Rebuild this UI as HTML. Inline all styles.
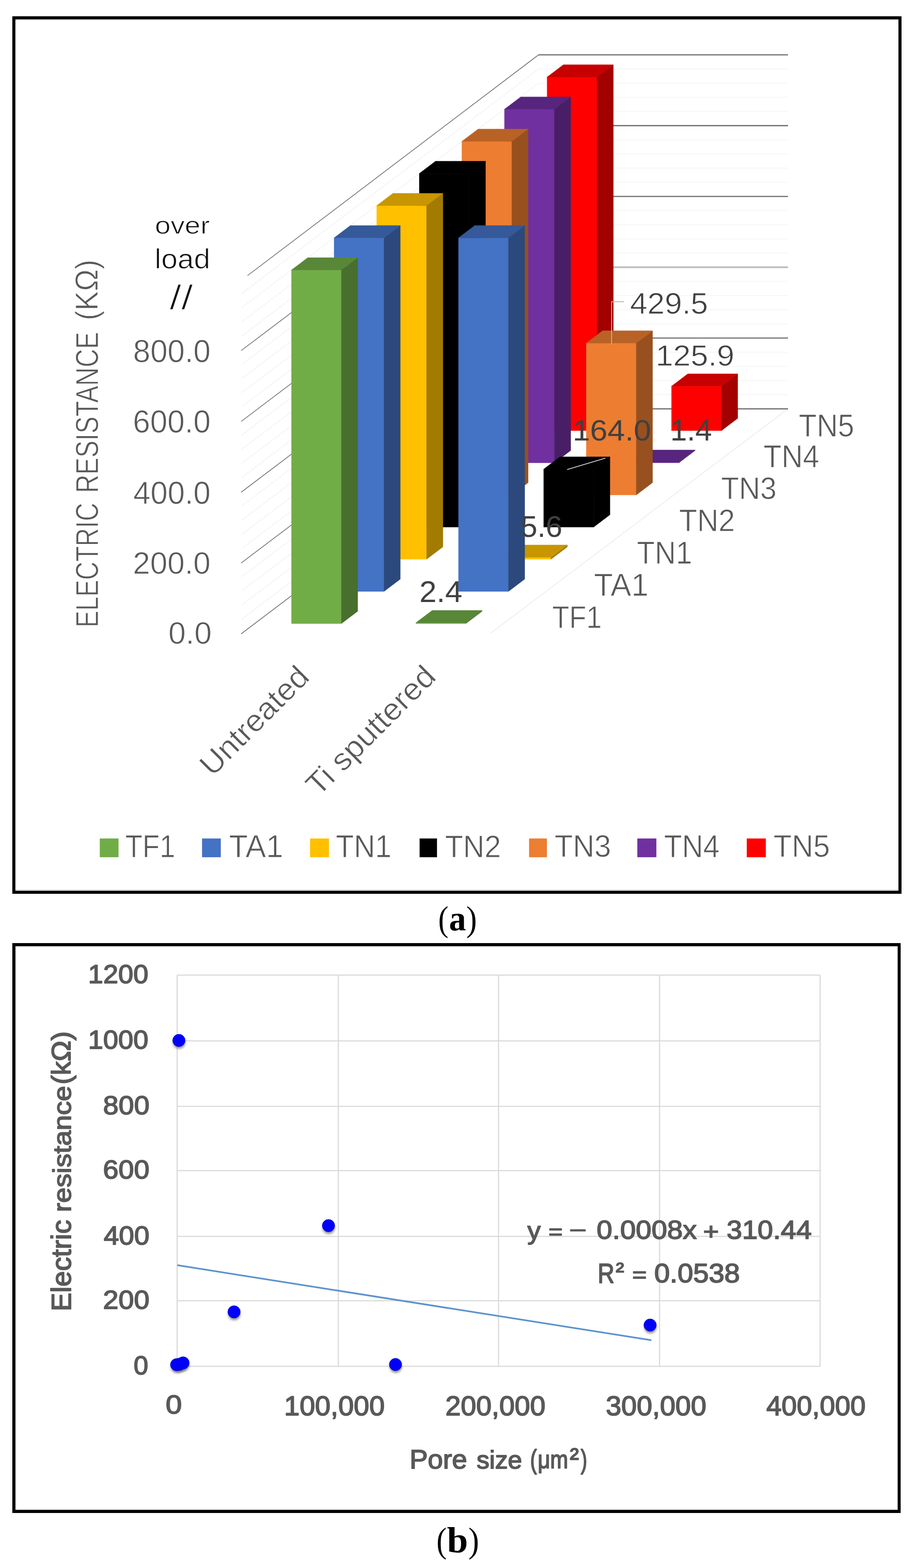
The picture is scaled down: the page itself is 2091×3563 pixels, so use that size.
<!DOCTYPE html>
<html><head><meta charset="utf-8"><title>Electric resistance charts</title>
<style>html,body{margin:0;padding:0;background:#fff;} svg{display:block;}</style></head>
<body><svg width="2091" height="3563" viewBox="0 0 2091 3563">
<rect width="2091" height="3563" fill="#fff"/>
<rect x="31.5" y="40.5" width="2014" height="1987" fill="none" stroke="#000" stroke-width="7"/>
<line x1="35" y1="45.5" x2="2042" y2="45.5" stroke="#d9d9d9" stroke-width="2"/>
<line x1="35" y1="2022" x2="2042" y2="2022" stroke="#d9d9d9" stroke-width="2"/>
<line x1="1224.00" y1="896.82" x2="1791.00" y2="896.82" stroke="#f3f3f3" stroke-width="1.5" />
<line x1="549.00" y1="1407.39" x2="1224.00" y2="896.82" stroke="#f0f0f0" stroke-width="1.4" />
<line x1="1224.00" y1="864.65" x2="1791.00" y2="864.65" stroke="#f3f3f3" stroke-width="1.5" />
<line x1="549.00" y1="1375.22" x2="1224.00" y2="864.65" stroke="#f0f0f0" stroke-width="1.4" />
<line x1="1224.00" y1="832.47" x2="1791.00" y2="832.47" stroke="#f3f3f3" stroke-width="1.5" />
<line x1="549.00" y1="1343.04" x2="1224.00" y2="832.47" stroke="#f0f0f0" stroke-width="1.4" />
<line x1="1224.00" y1="800.30" x2="1791.00" y2="800.30" stroke="#f3f3f3" stroke-width="1.5" />
<line x1="549.00" y1="1310.87" x2="1224.00" y2="800.30" stroke="#f0f0f0" stroke-width="1.4" />
<line x1="1224.00" y1="735.94" x2="1791.00" y2="735.94" stroke="#f3f3f3" stroke-width="1.5" />
<line x1="549.00" y1="1246.51" x2="1224.00" y2="735.94" stroke="#f0f0f0" stroke-width="1.4" />
<line x1="1224.00" y1="703.77" x2="1791.00" y2="703.77" stroke="#f3f3f3" stroke-width="1.5" />
<line x1="549.00" y1="1214.34" x2="1224.00" y2="703.77" stroke="#f0f0f0" stroke-width="1.4" />
<line x1="1224.00" y1="671.59" x2="1791.00" y2="671.59" stroke="#f3f3f3" stroke-width="1.5" />
<line x1="549.00" y1="1182.16" x2="1224.00" y2="671.59" stroke="#f0f0f0" stroke-width="1.4" />
<line x1="1224.00" y1="639.42" x2="1791.00" y2="639.42" stroke="#f3f3f3" stroke-width="1.5" />
<line x1="549.00" y1="1149.99" x2="1224.00" y2="639.42" stroke="#f0f0f0" stroke-width="1.4" />
<line x1="1224.00" y1="575.06" x2="1791.00" y2="575.06" stroke="#f3f3f3" stroke-width="1.5" />
<line x1="549.00" y1="1085.63" x2="1224.00" y2="575.06" stroke="#f0f0f0" stroke-width="1.4" />
<line x1="1224.00" y1="542.89" x2="1791.00" y2="542.89" stroke="#f3f3f3" stroke-width="1.5" />
<line x1="549.00" y1="1053.46" x2="1224.00" y2="542.89" stroke="#f0f0f0" stroke-width="1.4" />
<line x1="1224.00" y1="510.71" x2="1791.00" y2="510.71" stroke="#f3f3f3" stroke-width="1.5" />
<line x1="549.00" y1="1021.28" x2="1224.00" y2="510.71" stroke="#f0f0f0" stroke-width="1.4" />
<line x1="1224.00" y1="478.54" x2="1791.00" y2="478.54" stroke="#f3f3f3" stroke-width="1.5" />
<line x1="549.00" y1="989.11" x2="1224.00" y2="478.54" stroke="#f0f0f0" stroke-width="1.4" />
<line x1="1224.00" y1="414.18" x2="1791.00" y2="414.18" stroke="#f3f3f3" stroke-width="1.5" />
<line x1="549.00" y1="924.75" x2="1224.00" y2="414.18" stroke="#f0f0f0" stroke-width="1.4" />
<line x1="1224.00" y1="382.01" x2="1791.00" y2="382.01" stroke="#f3f3f3" stroke-width="1.5" />
<line x1="549.00" y1="892.58" x2="1224.00" y2="382.01" stroke="#f0f0f0" stroke-width="1.4" />
<line x1="1224.00" y1="349.83" x2="1791.00" y2="349.83" stroke="#f3f3f3" stroke-width="1.5" />
<line x1="549.00" y1="860.40" x2="1224.00" y2="349.83" stroke="#f0f0f0" stroke-width="1.4" />
<line x1="1224.00" y1="317.66" x2="1791.00" y2="317.66" stroke="#f3f3f3" stroke-width="1.5" />
<line x1="549.00" y1="828.23" x2="1224.00" y2="317.66" stroke="#f0f0f0" stroke-width="1.4" />
<line x1="1224.00" y1="253.30" x2="1791.00" y2="253.30" stroke="#f3f3f3" stroke-width="1.5" />
<line x1="549.00" y1="763.87" x2="1224.00" y2="253.30" stroke="#f0f0f0" stroke-width="1.4" />
<line x1="1224.00" y1="221.13" x2="1791.00" y2="221.13" stroke="#f3f3f3" stroke-width="1.5" />
<line x1="549.00" y1="731.70" x2="1224.00" y2="221.13" stroke="#f0f0f0" stroke-width="1.4" />
<line x1="1224.00" y1="188.95" x2="1791.00" y2="188.95" stroke="#f3f3f3" stroke-width="1.5" />
<line x1="549.00" y1="699.52" x2="1224.00" y2="188.95" stroke="#f0f0f0" stroke-width="1.4" />
<line x1="1224.00" y1="156.78" x2="1791.00" y2="156.78" stroke="#f3f3f3" stroke-width="1.5" />
<line x1="549.00" y1="667.35" x2="1224.00" y2="156.78" stroke="#f0f0f0" stroke-width="1.4" />
<line x1="1115.00" y1="1439.00" x2="1791.00" y2="929.00" stroke="#ebebeb" stroke-width="1.6" />
<line x1="548.00" y1="1440.33" x2="1224.00" y2="929.00" stroke="#595959" stroke-width="1.4" />
<line x1="1224.00" y1="929.00" x2="1791.00" y2="929.00" stroke="#767676" stroke-width="2.8" />
<line x1="548.00" y1="1279.45" x2="1224.00" y2="768.12" stroke="#595959" stroke-width="1.4" />
<line x1="1224.00" y1="768.12" x2="1791.00" y2="768.12" stroke="#767676" stroke-width="2.8" />
<line x1="548.00" y1="1118.57" x2="1224.00" y2="607.24" stroke="#595959" stroke-width="1.4" />
<line x1="1224.00" y1="607.24" x2="1791.00" y2="607.24" stroke="#bdbdbd" stroke-width="4.0" />
<line x1="548.00" y1="957.69" x2="1224.00" y2="446.36" stroke="#595959" stroke-width="1.4" />
<line x1="1224.00" y1="446.36" x2="1791.00" y2="446.36" stroke="#767676" stroke-width="2.8" />
<line x1="548.00" y1="796.81" x2="1224.00" y2="285.48" stroke="#595959" stroke-width="1.4" />
<line x1="1224.00" y1="285.48" x2="1791.00" y2="285.48" stroke="#767676" stroke-width="2.8" />
<line x1="562.60" y1="626.30" x2="1224.00" y2="124.60" stroke="#595959" stroke-width="1.4" />
<line x1="1224.00" y1="124.60" x2="1791.00" y2="124.60" stroke="#767676" stroke-width="2.8" />
<polygon points="1243.48,175.08 1356.98,175.08 1356.98,978.58 1243.48,978.58" fill="#FF0000" stroke="#FF0000" stroke-width="0.6" stroke-linejoin="round" />
<polygon points="1356.98,175.08 1393.98,147.08 1393.98,950.58 1356.98,978.58" fill="#a30000" stroke="#a30000" stroke-width="0.6" stroke-linejoin="round" />
<polygon points="1243.48,175.08 1356.98,175.08 1393.98,147.08 1280.48,147.08" fill="#c70000" stroke="#c70000" stroke-width="0.6" stroke-linejoin="round" />
<polygon points="1526.28,877.42 1639.78,877.42 1639.78,978.58 1526.28,978.58" fill="#FF0000" stroke="#FF0000" stroke-width="0.6" stroke-linejoin="round" />
<polygon points="1639.78,877.42 1676.78,849.42 1676.78,950.58 1639.78,978.58" fill="#a30000" stroke="#a30000" stroke-width="0.6" stroke-linejoin="round" />
<polygon points="1526.28,877.42 1639.78,877.42 1676.78,849.42 1563.28,849.42" fill="#c70000" stroke="#c70000" stroke-width="0.6" stroke-linejoin="round" />
<polygon points="1146.65,248.15 1260.15,248.15 1260.15,1051.65 1146.65,1051.65" fill="#7030A0" stroke="#7030A0" stroke-width="0.6" stroke-linejoin="round" />
<polygon points="1260.15,248.15 1297.15,220.15 1297.15,1023.65 1260.15,1051.65" fill="#481f66" stroke="#481f66" stroke-width="0.6" stroke-linejoin="round" />
<polygon points="1146.65,248.15 1260.15,248.15 1297.15,220.15 1183.65,220.15" fill="#57257d" stroke="#57257d" stroke-width="0.6" stroke-linejoin="round" />
<polygon points="1429.45,1050.53 1542.95,1050.53 1542.95,1051.65 1429.45,1051.65" fill="#7030A0" stroke="#7030A0" stroke-width="0.6" stroke-linejoin="round" />
<polygon points="1542.95,1050.53 1579.95,1022.53 1579.95,1023.65 1542.95,1051.65" fill="#481f66" stroke="#481f66" stroke-width="0.6" stroke-linejoin="round" />
<polygon points="1429.45,1050.53 1542.95,1050.53 1579.95,1022.53 1466.45,1022.53" fill="#57257d" stroke="#57257d" stroke-width="0.6" stroke-linejoin="round" />
<polygon points="1049.82,321.22 1163.32,321.22 1163.32,1124.72 1049.82,1124.72" fill="#ED7D31" stroke="#ED7D31" stroke-width="0.6" stroke-linejoin="round" />
<polygon points="1163.32,321.22 1200.32,293.22 1200.32,1096.72 1163.32,1124.72" fill="#98501f" stroke="#98501f" stroke-width="0.6" stroke-linejoin="round" />
<polygon points="1049.82,321.22 1163.32,321.22 1200.32,293.22 1086.82,293.22" fill="#b96226" stroke="#b96226" stroke-width="0.6" stroke-linejoin="round" />
<polygon points="1332.62,779.62 1446.12,779.62 1446.12,1124.72 1332.62,1124.72" fill="#ED7D31" stroke="#ED7D31" stroke-width="0.6" stroke-linejoin="round" />
<polygon points="1446.12,779.62 1483.12,751.62 1483.12,1096.72 1446.12,1124.72" fill="#98501f" stroke="#98501f" stroke-width="0.6" stroke-linejoin="round" />
<polygon points="1332.62,779.62 1446.12,779.62 1483.12,751.62 1369.62,751.62" fill="#b96226" stroke="#b96226" stroke-width="0.6" stroke-linejoin="round" />
<polygon points="952.99,394.29 1066.49,394.29 1066.49,1197.79 952.99,1197.79" fill="#000000" stroke="#000000" stroke-width="0.6" stroke-linejoin="round" />
<polygon points="1066.49,394.29 1103.49,366.29 1103.49,1169.79 1066.49,1197.79" fill="#000000" stroke="#000000" stroke-width="0.6" stroke-linejoin="round" />
<polygon points="952.99,394.29 1066.49,394.29 1103.49,366.29 989.99,366.29" fill="#000000" stroke="#000000" stroke-width="0.6" stroke-linejoin="round" />
<polygon points="1235.79,1066.02 1349.29,1066.02 1349.29,1197.79 1235.79,1197.79" fill="#000000" stroke="#000000" stroke-width="0.6" stroke-linejoin="round" />
<polygon points="1349.29,1066.02 1386.29,1038.02 1386.29,1169.79 1349.29,1197.79" fill="#000000" stroke="#000000" stroke-width="0.6" stroke-linejoin="round" />
<polygon points="1235.79,1066.02 1349.29,1066.02 1386.29,1038.02 1272.79,1038.02" fill="#000000" stroke="#000000" stroke-width="0.6" stroke-linejoin="round" />
<polygon points="856.16,467.36 969.66,467.36 969.66,1270.86 856.16,1270.86" fill="#FFC000" stroke="#FFC000" stroke-width="0.6" stroke-linejoin="round" />
<polygon points="969.66,467.36 1006.66,439.36 1006.66,1242.86 969.66,1270.86" fill="#a37b00" stroke="#a37b00" stroke-width="0.6" stroke-linejoin="round" />
<polygon points="856.16,467.36 969.66,467.36 1006.66,439.36 893.16,439.36" fill="#c79600" stroke="#c79600" stroke-width="0.6" stroke-linejoin="round" />
<polygon points="1138.96,1266.36 1252.46,1266.36 1252.46,1270.86 1138.96,1270.86" fill="#FFC000" stroke="#FFC000" stroke-width="0.6" stroke-linejoin="round" />
<polygon points="1252.46,1266.36 1289.46,1238.36 1289.46,1242.86 1252.46,1270.86" fill="#a37b00" stroke="#a37b00" stroke-width="0.6" stroke-linejoin="round" />
<polygon points="1138.96,1266.36 1252.46,1266.36 1289.46,1238.36 1175.96,1238.36" fill="#c79600" stroke="#c79600" stroke-width="0.6" stroke-linejoin="round" />
<polygon points="759.33,540.43 872.83,540.43 872.83,1343.93 759.33,1343.93" fill="#4472C4" stroke="#4472C4" stroke-width="0.6" stroke-linejoin="round" />
<polygon points="872.83,540.43 909.83,512.43 909.83,1315.93 872.83,1343.93" fill="#2c497d" stroke="#2c497d" stroke-width="0.6" stroke-linejoin="round" />
<polygon points="759.33,540.43 872.83,540.43 909.83,512.43 796.33,512.43" fill="#355999" stroke="#355999" stroke-width="0.6" stroke-linejoin="round" />
<polygon points="1042.13,540.43 1155.63,540.43 1155.63,1343.93 1042.13,1343.93" fill="#4472C4" stroke="#4472C4" stroke-width="0.6" stroke-linejoin="round" />
<polygon points="1155.63,540.43 1192.63,512.43 1192.63,1315.93 1155.63,1343.93" fill="#2c497d" stroke="#2c497d" stroke-width="0.6" stroke-linejoin="round" />
<polygon points="1042.13,540.43 1155.63,540.43 1192.63,512.43 1079.13,512.43" fill="#355999" stroke="#355999" stroke-width="0.6" stroke-linejoin="round" />
<polygon points="662.50,613.50 776.00,613.50 776.00,1417.00 662.50,1417.00" fill="#70AD47" stroke="#70AD47" stroke-width="0.6" stroke-linejoin="round" />
<polygon points="776.00,613.50 813.00,585.50 813.00,1389.00 776.00,1417.00" fill="#486f2d" stroke="#486f2d" stroke-width="0.6" stroke-linejoin="round" />
<polygon points="662.50,613.50 776.00,613.50 813.00,585.50 699.50,585.50" fill="#578737" stroke="#578737" stroke-width="0.6" stroke-linejoin="round" />
<polygon points="945.30,1415.07 1058.80,1415.07 1058.80,1417.00 945.30,1417.00" fill="#70AD47" stroke="#70AD47" stroke-width="0.6" stroke-linejoin="round" />
<polygon points="1058.80,1415.07 1095.80,1387.07 1095.80,1389.00 1058.80,1417.00" fill="#486f2d" stroke="#486f2d" stroke-width="0.6" stroke-linejoin="round" />
<polygon points="945.30,1415.07 1058.80,1415.07 1095.80,1387.07 982.30,1387.07" fill="#578737" stroke="#578737" stroke-width="0.6" stroke-linejoin="round" />
<polyline points="1390,783 1390,685.6 1418,685.6" fill="none" stroke="#b4b4b4" stroke-width="2"/>
<line x1="1289.00" y1="1067.00" x2="1376.00" y2="1041.00" stroke="#bfbfbf" stroke-width="2" />
<text transform="translate(302.61,823.38) scale(0.7034,0.7208)" font-family="'Liberation Sans', Arial, sans-serif" font-weight="normal" font-size="100.0" fill="#595959" stroke="#fff" stroke-width="1.404" stroke-linejoin="round">800.0</text>
<text transform="translate(302.07,983.18) scale(0.7056,0.7180)" font-family="'Liberation Sans', Arial, sans-serif" font-weight="normal" font-size="100.0" fill="#595959" stroke="#fff" stroke-width="1.405" stroke-linejoin="round">600.0</text>
<text transform="translate(302.92,1144.98) scale(0.7021,0.7180)" font-family="'Liberation Sans', Arial, sans-serif" font-weight="normal" font-size="100.0" fill="#595959" stroke="#fff" stroke-width="1.408" stroke-linejoin="round">400.0</text>
<text transform="translate(302.08,1304.09) scale(0.7048,0.7110)" font-family="'Liberation Sans', Arial, sans-serif" font-weight="normal" font-size="100.0" fill="#595959" stroke="#fff" stroke-width="1.413" stroke-linejoin="round">200.0</text>
<text transform="translate(382.67,1463.49) scale(0.7086,0.7124)" font-family="'Liberation Sans', Arial, sans-serif" font-weight="normal" font-size="100.0" fill="#595959" stroke="#fff" stroke-width="1.408" stroke-linejoin="round">0.0</text>
<text transform="translate(351.97,531.05) scale(0.6426,0.5516)" font-family="'Liberation Sans', Arial, sans-serif" font-weight="normal" font-size="100.0" fill="#111111" stroke="#fff" stroke-width="2.016" stroke-linejoin="round">over</text>
<text transform="translate(351.59,610.46) scale(0.6676,0.6354)" font-family="'Liberation Sans', Arial, sans-serif" font-weight="normal" font-size="100.0" fill="#111111" stroke="#fff" stroke-width="1.842" stroke-linejoin="round">load</text>
<text transform="translate(385.60,702.93) scale(0.9532,0.7701)" font-family="'Liberation Sans', Arial, sans-serif" font-weight="normal" font-size="100.0" fill="#111111" stroke="#fff" stroke-width="2.101" stroke-linejoin="round">//</text>
<text transform="translate(222.78,1425.82) rotate(-90) scale(0.5724,0.7152)" font-family="'Liberation Sans', Arial, sans-serif" font-weight="normal" font-size="100.0" fill="#595959" stroke="#fff" stroke-width="1.563" stroke-linejoin="round">ELECTRIC</text>
<text transform="translate(222.78,1120.28) rotate(-90) scale(0.5794,0.7152)" font-family="'Liberation Sans', Arial, sans-serif" font-weight="normal" font-size="100.0" fill="#595959" stroke="#fff" stroke-width="1.553" stroke-linejoin="round">RESISTANCE</text>
<text transform="translate(221.90,727.84) rotate(-90) scale(0.6631,0.7228)" font-family="'Liberation Sans', Arial, sans-serif" font-weight="normal" font-size="100.0" fill="#595959" stroke="#fff" stroke-width="1.444" stroke-linejoin="round">(KΩ)</text>
<text transform="translate(1254.97,1427.10) scale(0.6354,0.7055)" font-family="'Liberation Sans', Arial, sans-serif" font-weight="normal" font-size="100.0" fill="#595959" stroke="#fff" stroke-width="1.494" stroke-linejoin="round">TF1</text>
<text transform="translate(1350.12,1354.00) scale(0.7034,0.7215)" font-family="'Liberation Sans', Arial, sans-serif" font-weight="normal" font-size="100.0" fill="#595959" stroke="#fff" stroke-width="1.404" stroke-linejoin="round">TA1</text>
<text transform="translate(1447.61,1281.00) scale(0.6641,0.7229)" font-family="'Liberation Sans', Arial, sans-serif" font-weight="normal" font-size="100.0" fill="#595959" stroke="#fff" stroke-width="1.443" stroke-linejoin="round">TN1</text>
<text transform="translate(1543.49,1207.00) scale(0.6722,0.7025)" font-family="'Liberation Sans', Arial, sans-serif" font-weight="normal" font-size="100.0" fill="#595959" stroke="#fff" stroke-width="1.455" stroke-linejoin="round">TN2</text>
<text transform="translate(1638.70,1134.30) scale(0.6689,0.6996)" font-family="'Liberation Sans', Arial, sans-serif" font-weight="normal" font-size="100.0" fill="#595959" stroke="#fff" stroke-width="1.462" stroke-linejoin="round">TN3</text>
<text transform="translate(1735.29,1062.00) scale(0.6710,0.7229)" font-family="'Liberation Sans', Arial, sans-serif" font-weight="normal" font-size="100.0" fill="#595959" stroke="#fff" stroke-width="1.436" stroke-linejoin="round">TN4</text>
<text transform="translate(1815.40,991.88) scale(0.6674,0.7154)" font-family="'Liberation Sans', Arial, sans-serif" font-weight="normal" font-size="100.0" fill="#595959" stroke="#fff" stroke-width="1.447" stroke-linejoin="round">TN5</text>
<text transform="translate(482.67,1766.39) rotate(-45) scale(1.0319,1.0000)" font-family="'Liberation Sans', Arial, sans-serif" font-weight="normal" font-size="70" fill="#595959" stroke="#fff" stroke-width="0.984" stroke-linejoin="round">Untreated</text>
<text transform="translate(724.07,1811.59) rotate(-45) scale(1.0415,1.0000)" font-family="'Liberation Sans', Arial, sans-serif" font-weight="normal" font-size="70" fill="#595959" stroke="#fff" stroke-width="0.980" stroke-linejoin="round">Ti sputtered</text>
<text transform="translate(953.30,1367.60) scale(0.7002,0.6925)" font-family="'Liberation Sans', Arial, sans-serif" font-weight="normal" font-size="100.0" fill="#404040">2.4</text>
<text transform="translate(1183.48,1220.21) scale(0.6807,0.6869)" font-family="'Liberation Sans', Arial, sans-serif" font-weight="normal" font-size="100.0" fill="#404040">5.6</text>
<text transform="translate(1301.45,1000.63) scale(0.7130,0.6657)" font-family="'Liberation Sans', Arial, sans-serif" font-weight="normal" font-size="100.0" fill="#404040">164.0</text>
<text transform="translate(1431.90,712.82) scale(0.7090,0.6784)" font-family="'Liberation Sans', Arial, sans-serif" font-weight="normal" font-size="100.0" fill="#404040" stroke="#fff" stroke-width="1.442" stroke-linejoin="round">429.5</text>
<text transform="translate(1523.50,1001.00) scale(0.6804,0.6836)" font-family="'Liberation Sans', Arial, sans-serif" font-weight="normal" font-size="100.0" fill="#404040">1.4</text>
<text transform="translate(1490.14,830.84) scale(0.7152,0.6643)" font-family="'Liberation Sans', Arial, sans-serif" font-weight="normal" font-size="100.0" fill="#404040" stroke="#fff" stroke-width="1.451" stroke-linejoin="round">125.9</text>
<rect x="226.8" y="1905.3" width="42.6" height="42.6" fill="#70AD47"/>
<text transform="translate(284.76,1948.00) scale(0.6384,0.7229)" font-family="'Liberation Sans', Arial, sans-serif" font-weight="normal" font-size="100.0" fill="#595959" stroke="#fff" stroke-width="1.472" stroke-linejoin="round">TF1</text>
<rect x="459.2" y="1905.3" width="42.6" height="42.6" fill="#4472C4"/>
<text transform="translate(520.43,1948.00) scale(0.6999,0.7229)" font-family="'Liberation Sans', Arial, sans-serif" font-weight="normal" font-size="100.0" fill="#595959" stroke="#fff" stroke-width="1.406" stroke-linejoin="round">TA1</text>
<rect x="704.7" y="1905.3" width="43.0" height="42.6" fill="#FFC000"/>
<text transform="translate(763.29,1948.00) scale(0.6702,0.7229)" font-family="'Liberation Sans', Arial, sans-serif" font-weight="normal" font-size="100.0" fill="#595959" stroke="#fff" stroke-width="1.437" stroke-linejoin="round">TN1</text>
<rect x="953.7" y="1905.3" width="39.5" height="42.6" fill="#000000"/>
<text transform="translate(1011.49,1948.00) scale(0.6727,0.7125)" font-family="'Liberation Sans', Arial, sans-serif" font-weight="normal" font-size="100.0" fill="#595959" stroke="#fff" stroke-width="1.444" stroke-linejoin="round">TN2</text>
<rect x="1202.5" y="1905.3" width="40.5" height="42.6" fill="#ED7D31"/>
<text transform="translate(1260.47,1947.30) scale(0.6793,0.7025)" font-family="'Liberation Sans', Arial, sans-serif" font-weight="normal" font-size="100.0" fill="#595959" stroke="#fff" stroke-width="1.448" stroke-linejoin="round">TN3</text>
<rect x="1448.5" y="1905.3" width="43.3" height="42.6" fill="#7030A0"/>
<text transform="translate(1509.30,1948.00) scale(0.6678,0.7229)" font-family="'Liberation Sans', Arial, sans-serif" font-weight="normal" font-size="100.0" fill="#595959" stroke="#fff" stroke-width="1.439" stroke-linejoin="round">TN4</text>
<rect x="1697.3" y="1905.3" width="43.3" height="42.6" fill="#FF0000"/>
<text transform="translate(1757.97,1947.29) scale(0.6784,0.7125)" font-family="'Liberation Sans', Arial, sans-serif" font-weight="normal" font-size="100.0" fill="#595959" stroke="#fff" stroke-width="1.438" stroke-linejoin="round">TN5</text>
<text transform="translate(995.93,2114.91) scale(0.6990,0.8044)" font-family="'Liberation Serif', 'Times New Roman', serif" font-weight="normal" font-size="100.0" fill="#000">(</text>
<text transform="translate(1020.49,2113.91) scale(0.7735,0.7937)" font-family="'Liberation Serif', 'Times New Roman', serif" font-weight="bold" font-size="100.0" fill="#000">a</text>
<text transform="translate(1059.64,2114.91) scale(0.7262,0.8044)" font-family="'Liberation Serif', 'Times New Roman', serif" font-weight="normal" font-size="100.0" fill="#000">)</text>
<rect x="31.5" y="2146.5" width="2012" height="1288" fill="none" stroke="#000" stroke-width="7"/>
<line x1="35" y1="2151.5" x2="2040" y2="2151.5" stroke="#d9d9d9" stroke-width="2"/>
<line x1="36.5" y1="2150" x2="36.5" y2="3431" stroke="#d9d9d9" stroke-width="2"/>
<line x1="2039.5" y1="2150" x2="2039.5" y2="3431" stroke="#d9d9d9" stroke-width="2"/>
<line x1="35" y1="3429.5" x2="2040" y2="3429.5" stroke="#d9d9d9" stroke-width="2"/>
<line x1="403.00" y1="3104.80" x2="1864.00" y2="3104.80" stroke="#d9d9d9" stroke-width="2.6" />
<line x1="403.00" y1="2955.70" x2="1864.00" y2="2955.70" stroke="#d9d9d9" stroke-width="2.6" />
<line x1="403.00" y1="2809.50" x2="1864.00" y2="2809.50" stroke="#d9d9d9" stroke-width="2.6" />
<line x1="403.00" y1="2660.00" x2="1864.00" y2="2660.00" stroke="#d9d9d9" stroke-width="2.6" />
<line x1="403.00" y1="2514.00" x2="1864.00" y2="2514.00" stroke="#d9d9d9" stroke-width="2.6" />
<line x1="403.00" y1="2365.20" x2="1864.00" y2="2365.20" stroke="#d9d9d9" stroke-width="2.6" />
<line x1="403.00" y1="2215.80" x2="1864.00" y2="2215.80" stroke="#d9d9d9" stroke-width="2.6" />
<line x1="402.60" y1="2215.80" x2="402.60" y2="3104.70" stroke="#d9d9d9" stroke-width="2.6" />
<line x1="769.00" y1="2215.80" x2="769.00" y2="3104.70" stroke="#d9d9d9" stroke-width="2.6" />
<line x1="1133.00" y1="2215.80" x2="1133.00" y2="3104.70" stroke="#d9d9d9" stroke-width="2.6" />
<line x1="1499.00" y1="2215.80" x2="1499.00" y2="3104.70" stroke="#d9d9d9" stroke-width="2.6" />
<line x1="1864.00" y1="2215.80" x2="1864.00" y2="3104.70" stroke="#d9d9d9" stroke-width="2.6" />
<line x1="403.00" y1="2874.97" x2="1480.50" y2="3045.40" stroke="#5c93cc" stroke-width="3.8" />
<defs><filter id="sh" x="-50%" y="-50%" width="200%" height="200%"><feGaussianBlur stdDeviation="2.6"/></filter></defs>
<circle cx="407.1" cy="2369.2" r="14" fill="#707070" opacity="0.75" filter="url(#sh)"/>
<circle cx="402.0" cy="3106.0" r="14" fill="#707070" opacity="0.75" filter="url(#sh)"/>
<circle cx="408.5" cy="3105.0" r="14" fill="#707070" opacity="0.75" filter="url(#sh)"/>
<circle cx="416.5" cy="3102.0" r="14" fill="#707070" opacity="0.75" filter="url(#sh)"/>
<circle cx="532.5" cy="2986.0" r="14" fill="#707070" opacity="0.75" filter="url(#sh)"/>
<circle cx="747.1" cy="2790.0" r="14" fill="#707070" opacity="0.75" filter="url(#sh)"/>
<circle cx="899.4" cy="3105.6" r="14" fill="#707070" opacity="0.75" filter="url(#sh)"/>
<circle cx="1478.1" cy="3016.0" r="14" fill="#707070" opacity="0.75" filter="url(#sh)"/>
<circle cx="406.6" cy="2364.2" r="14.1" fill="#0000FA" stroke="#0000D0" stroke-width="1"/>
<circle cx="401.5" cy="3101.0" r="14.1" fill="#0000FA" stroke="#0000D0" stroke-width="1"/>
<circle cx="408.0" cy="3100.0" r="14.1" fill="#0000FA" stroke="#0000D0" stroke-width="1"/>
<circle cx="416.0" cy="3097.0" r="14.1" fill="#0000FA" stroke="#0000D0" stroke-width="1"/>
<circle cx="532.0" cy="2981.0" r="14.1" fill="#0000FA" stroke="#0000D0" stroke-width="1"/>
<circle cx="746.6" cy="2785.0" r="14.1" fill="#0000FA" stroke="#0000D0" stroke-width="1"/>
<circle cx="898.9" cy="3100.6" r="14.1" fill="#0000FA" stroke="#0000D0" stroke-width="1"/>
<circle cx="1477.6" cy="3011.0" r="14.1" fill="#0000FA" stroke="#0000D0" stroke-width="1"/>
<text transform="translate(200.13,2233.95) scale(0.6161,0.5979)" font-family="'Liberation Sans', Arial, sans-serif" font-weight="normal" font-size="100.0" fill="#595959" stroke="#595959" stroke-width="3.460" stroke-linejoin="round">1200</text>
<text transform="translate(200.13,2383.35) scale(0.6161,0.5979)" font-family="'Liberation Sans', Arial, sans-serif" font-weight="normal" font-size="100.0" fill="#595959" stroke="#595959" stroke-width="3.460" stroke-linejoin="round">1000</text>
<text transform="translate(234.36,2532.15) scale(0.6318,0.5979)" font-family="'Liberation Sans', Arial, sans-serif" font-weight="normal" font-size="100.0" fill="#595959" stroke="#595959" stroke-width="3.417" stroke-linejoin="round">800</text>
<text transform="translate(233.88,2678.15) scale(0.6348,0.5979)" font-family="'Liberation Sans', Arial, sans-serif" font-weight="normal" font-size="100.0" fill="#595959" stroke="#595959" stroke-width="3.409" stroke-linejoin="round">600</text>
<text transform="translate(235.65,2827.65) scale(0.6240,0.5979)" font-family="'Liberation Sans', Arial, sans-serif" font-weight="normal" font-size="100.0" fill="#595959" stroke="#595959" stroke-width="3.438" stroke-linejoin="round">400</text>
<text transform="translate(233.88,2973.85) scale(0.6348,0.5979)" font-family="'Liberation Sans', Arial, sans-serif" font-weight="normal" font-size="100.0" fill="#595959" stroke="#595959" stroke-width="3.409" stroke-linejoin="round">200</text>
<text transform="translate(303.66,3122.95) scale(0.5969,0.5979)" font-family="'Liberation Sans', Arial, sans-serif" font-weight="normal" font-size="100.0" fill="#595959" stroke="#595959" stroke-width="3.515" stroke-linejoin="round">0</text>
<text transform="translate(376.39,3211.77) scale(0.6639,0.5837)" font-family="'Liberation Sans', Arial, sans-serif" font-weight="normal" font-size="100.0" fill="#595959" stroke="#595959" stroke-width="3.373" stroke-linejoin="round">0</text>
<text transform="translate(645.70,3215.60) scale(0.6329,0.6315)" font-family="'Liberation Sans', Arial, sans-serif" font-weight="normal" font-size="100.0" fill="#595959" stroke="#595959" stroke-width="3.322" stroke-linejoin="round">100,000</text>
<text transform="translate(1012.30,3215.60) scale(0.6298,0.6315)" font-family="'Liberation Sans', Arial, sans-serif" font-weight="normal" font-size="100.0" fill="#595959" stroke="#595959" stroke-width="3.330" stroke-linejoin="round">200,000</text>
<text transform="translate(1376.88,3215.60) scale(0.6324,0.6315)" font-family="'Liberation Sans', Arial, sans-serif" font-weight="normal" font-size="100.0" fill="#595959" stroke="#595959" stroke-width="3.323" stroke-linejoin="round">300,000</text>
<text transform="translate(1741.64,3215.60) scale(0.6246,0.6315)" font-family="'Liberation Sans', Arial, sans-serif" font-weight="normal" font-size="100.0" fill="#595959" stroke="#595959" stroke-width="3.344" stroke-linejoin="round">400,000</text>
<text transform="translate(930.94,3337.15) scale(0.6196,0.6036)" font-family="'Liberation Sans', Arial, sans-serif" font-weight="normal" font-size="100.0" fill="#595959" stroke="#595959" stroke-width="3.434" stroke-linejoin="round">Pore</text>
<text transform="translate(1083.25,3337.17) scale(0.5810,0.5782)" font-family="'Liberation Sans', Arial, sans-serif" font-weight="normal" font-size="100.0" fill="#595959" stroke="#595959" stroke-width="3.623" stroke-linejoin="round">size</text>
<text transform="translate(1205.02,3336.94) scale(0.4528,0.6123)" font-family="'Liberation Sans', Arial, sans-serif" font-weight="normal" font-size="100.0" fill="#595959" stroke="#595959" stroke-width="3.988" stroke-linejoin="round">(</text>
<text transform="translate(1222.35,3335.50) scale(0.4886,0.5740)" font-family="'Liberation Sans', Arial, sans-serif" font-weight="normal" font-size="100.0" fill="#595959" stroke="#595959" stroke-width="3.965" stroke-linejoin="round">μm</text>
<text transform="translate(1295.10,3334.13) scale(0.6237,0.6357)" font-family="'Liberation Sans', Arial, sans-serif" font-weight="normal" font-size="100.0" fill="#595959" stroke="#595959" stroke-width="3.335" stroke-linejoin="round">²</text>
<text transform="translate(1320.12,3336.94) scale(0.4340,0.6123)" font-family="'Liberation Sans', Arial, sans-serif" font-weight="normal" font-size="100.0" fill="#595959" stroke="#595959" stroke-width="4.074" stroke-linejoin="round">)</text>
<text transform="translate(160.73,2979.79) rotate(-90) scale(0.6346,0.6245)" font-family="'Liberation Sans', Arial, sans-serif" font-weight="normal" font-size="100.0" fill="#595959" stroke="#595959" stroke-width="3.336" stroke-linejoin="round">Electric</text>
<text transform="translate(160.77,2754.25) rotate(-90) scale(0.6301,0.5782)" font-family="'Liberation Sans', Arial, sans-serif" font-weight="normal" font-size="100.0" fill="#595959" stroke="#595959" stroke-width="3.479" stroke-linejoin="round">resistance</text>
<text transform="translate(160.12,2464.29) rotate(-90) scale(0.6307,0.6134)" font-family="'Liberation Sans', Arial, sans-serif" font-weight="normal" font-size="100.0" fill="#595959" stroke="#595959" stroke-width="3.376" stroke-linejoin="round">(kΩ)</text>
<text transform="translate(1198.70,2815.81) scale(0.6020,0.5755)" font-family="'Liberation Sans', Arial, sans-serif" font-weight="normal" font-size="100.0" fill="#595959" stroke="#595959" stroke-width="3.568" stroke-linejoin="round">y</text>
<text transform="translate(1246.75,2814.54) scale(0.5477,0.4651)" font-family="'Liberation Sans', Arial, sans-serif" font-weight="normal" font-size="100.0" fill="#595959" stroke="#595959" stroke-width="4.161" stroke-linejoin="round">=</text>
<text transform="translate(1293.47,2812.09) scale(0.6763,0.4828)" font-family="'Liberation Sans', Arial, sans-serif" font-weight="normal" font-size="100.0" fill="#595959" stroke="#595959" stroke-width="3.675" stroke-linejoin="round">−</text>
<text transform="translate(1356.09,2814.96) scale(0.6402,0.5922)" font-family="'Liberation Sans', Arial, sans-serif" font-weight="normal" font-size="100.0" fill="#595959" stroke="#595959" stroke-width="3.410" stroke-linejoin="round">0.0008x</text>
<text transform="translate(1598.02,2816.95) scale(0.6174,0.5367)" font-family="'Liberation Sans', Arial, sans-serif" font-weight="normal" font-size="100.0" fill="#595959" stroke="#595959" stroke-width="3.648" stroke-linejoin="round">+</text>
<text transform="translate(1651.58,2814.86) scale(0.6319,0.5908)" font-family="'Liberation Sans', Arial, sans-serif" font-weight="normal" font-size="100.0" fill="#595959" stroke="#595959" stroke-width="3.437" stroke-linejoin="round">310.44</text>
<text transform="translate(1358.52,2914.55) scale(0.5249,0.6240)" font-family="'Liberation Sans', Arial, sans-serif" font-weight="normal" font-size="100.0" fill="#595959" stroke="#595959" stroke-width="3.669" stroke-linejoin="round">R</text>
<text transform="translate(1399.61,2905.09) scale(0.5695,0.5143)" font-family="'Liberation Sans', Arial, sans-serif" font-weight="normal" font-size="100.0" fill="#595959" stroke="#595959" stroke-width="3.880" stroke-linejoin="round">²</text>
<text transform="translate(1437.07,2913.15) scale(0.5641,0.4837)" font-family="'Liberation Sans', Arial, sans-serif" font-weight="normal" font-size="100.0" fill="#595959" stroke="#595959" stroke-width="4.020" stroke-linejoin="round">=</text>
<text transform="translate(1486.90,2913.94) scale(0.6373,0.6064)" font-family="'Liberation Sans', Arial, sans-serif" font-weight="normal" font-size="100.0" fill="#595959" stroke="#595959" stroke-width="3.378" stroke-linejoin="round">0.0538</text>
<text transform="translate(992.03,3526.68) scale(0.6990,0.8011)" font-family="'Liberation Serif', 'Times New Roman', serif" font-weight="normal" font-size="100.0" fill="#000">(</text>
<text transform="translate(1015.93,3526.77) scale(0.8557,0.8312)" font-family="'Liberation Serif', 'Times New Roman', serif" font-weight="bold" font-size="100.0" fill="#000">b</text>
<text transform="translate(1064.61,3526.68) scale(0.7340,0.8011)" font-family="'Liberation Serif', 'Times New Roman', serif" font-weight="normal" font-size="100.0" fill="#000">)</text>
</svg></body></html>
